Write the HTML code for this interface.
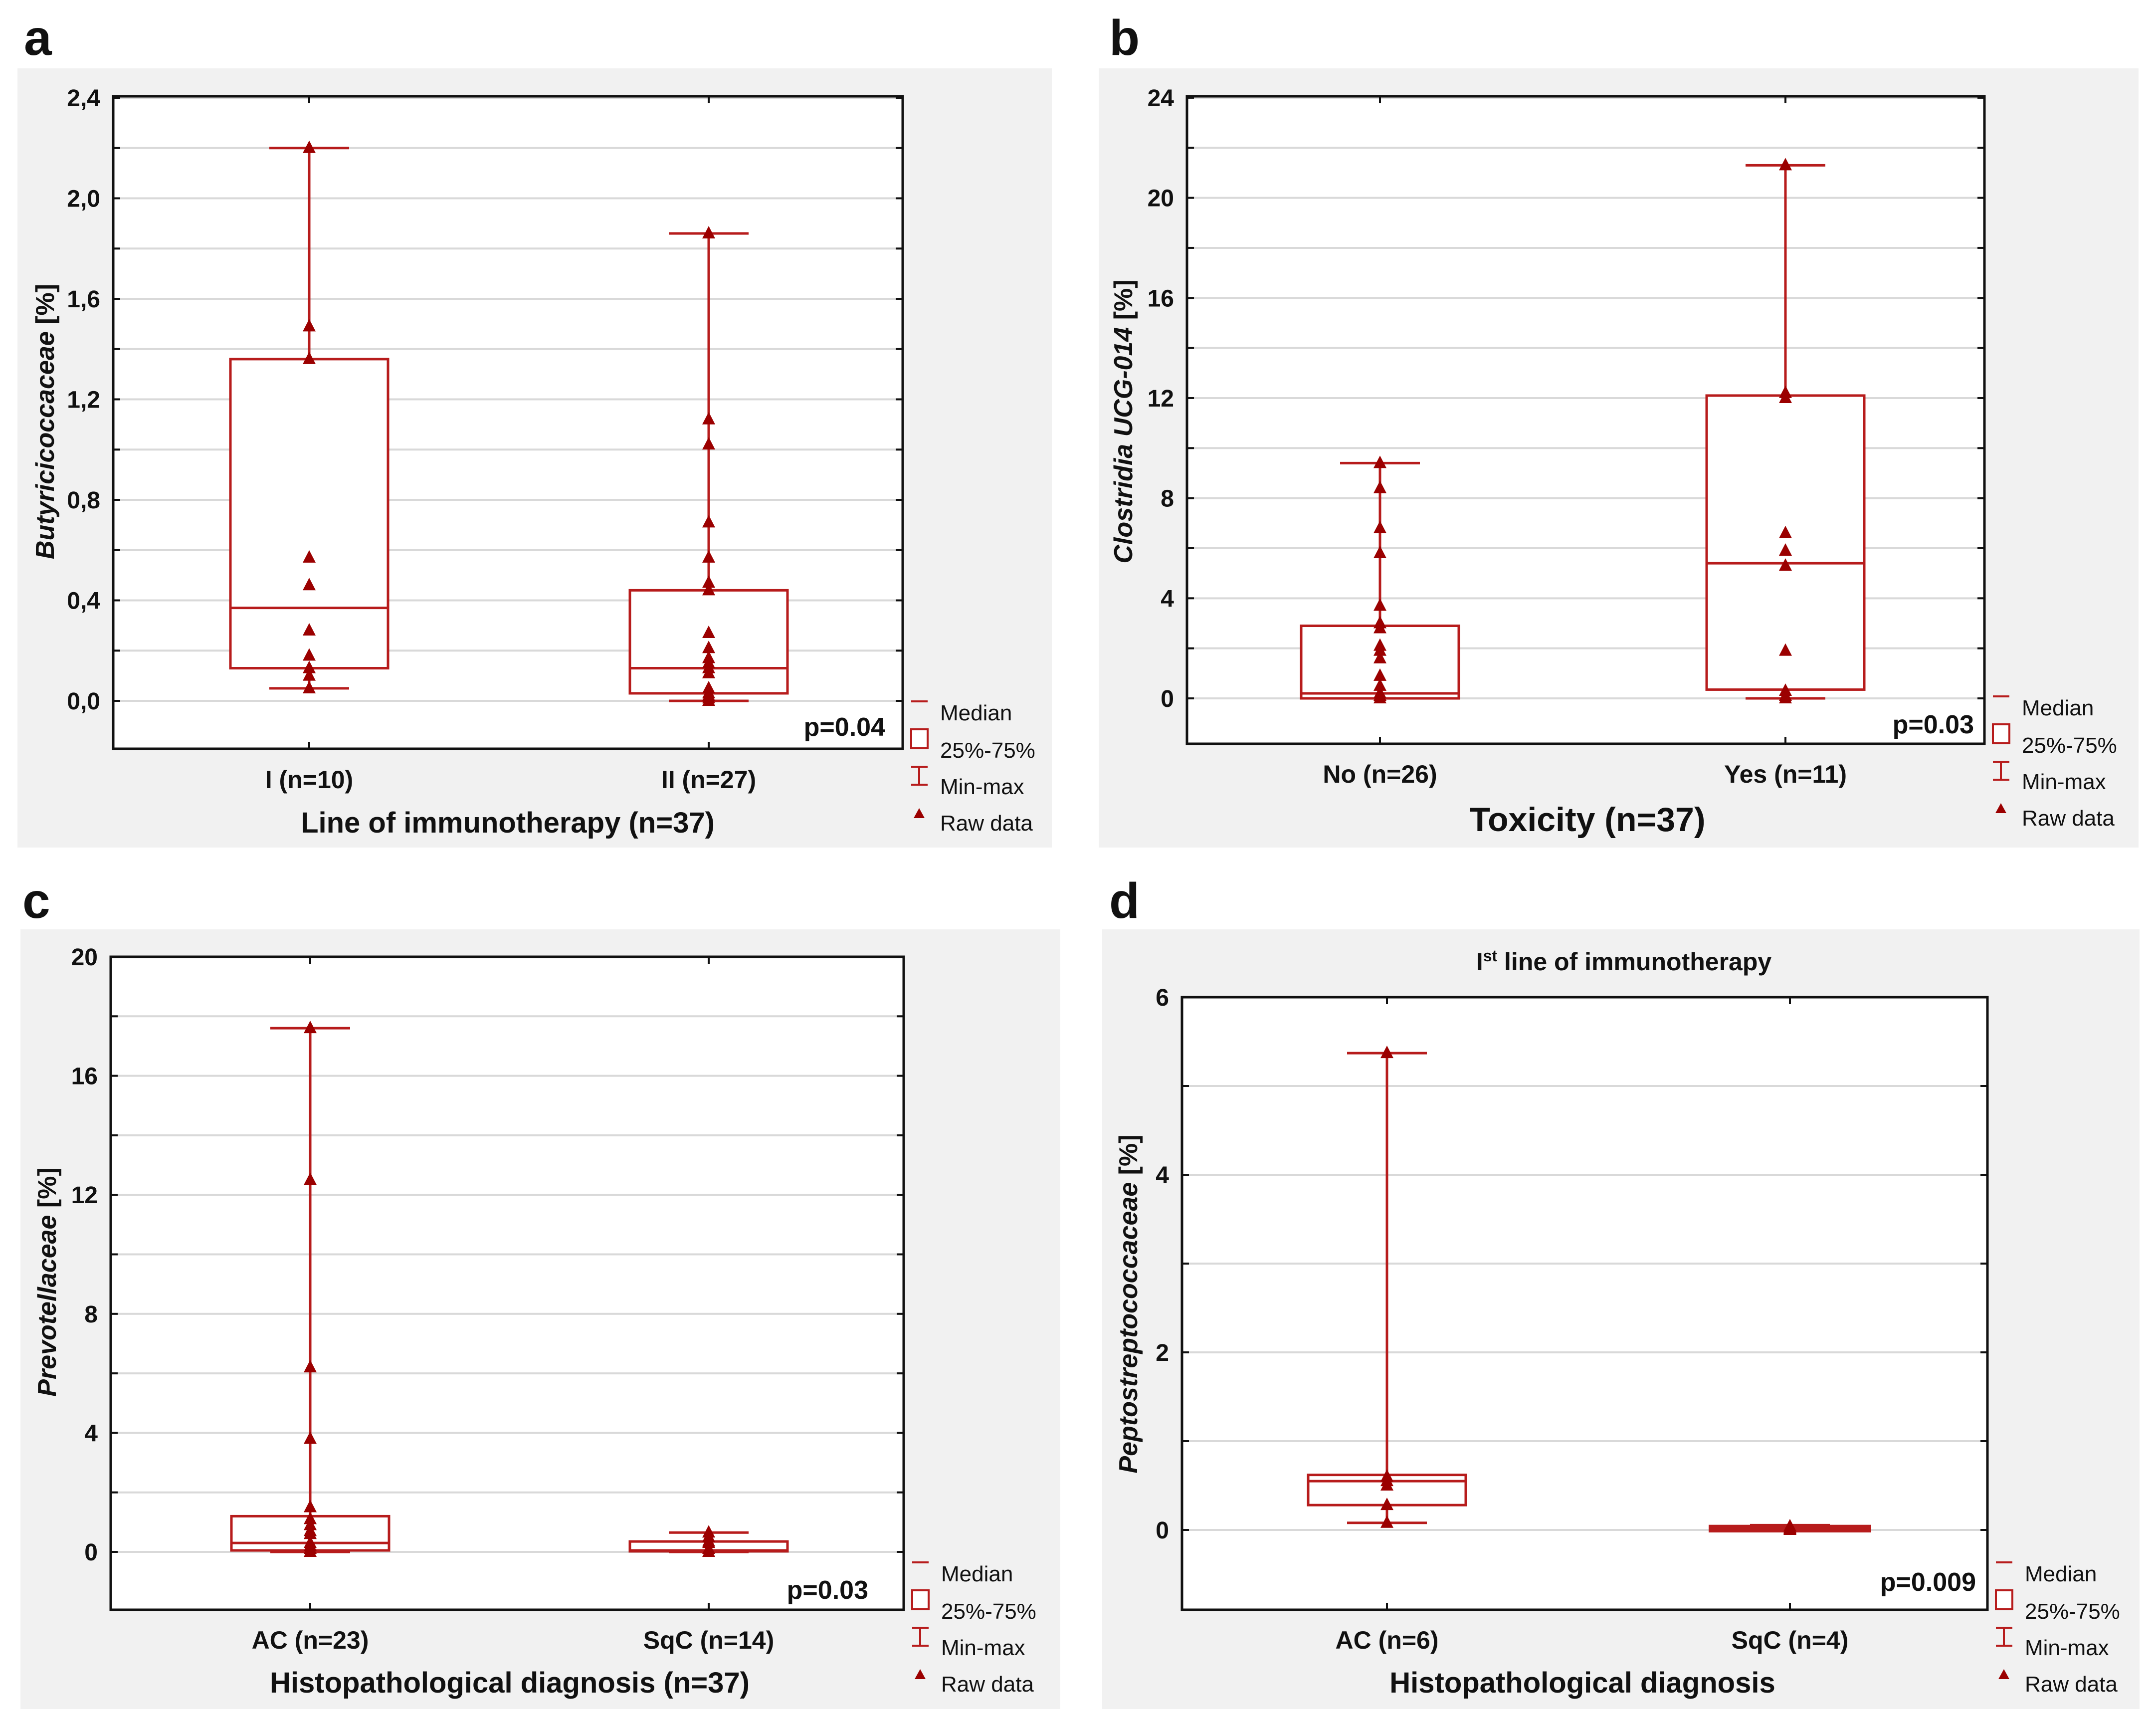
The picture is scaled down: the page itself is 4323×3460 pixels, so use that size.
<!DOCTYPE html>
<html><head><meta charset="utf-8"><style>
html,body{margin:0;padding:0;background:#fff;}
svg{display:block;}
text{font-family:"Liberation Sans",Arial,sans-serif;fill:#111;}
</style></head>
<body>
<svg id="fig" width="4323" height="3460" viewBox="0 0 4323 3460" xmlns="http://www.w3.org/2000/svg"></svg>
<script>
// ---------- Panel a data ----------
const aCategories = ["I (n=10)", "II (n=27)"];
const aMin = [0.05, 0.0];
const aQ1 = [0.13, 0.03];
const aMedian = [0.37, 0.13];
const aQ3 = [1.36, 0.44];
const aMax = [2.2, 1.86];
const aRaw0 = [2.2, 1.49, 1.36, 0.57, 0.46, 0.28, 0.18, 0.13, 0.10, 0.05];
const aRaw1 = [1.86, 1.12, 1.02, 0.71, 0.57, 0.47, 0.44, 0.27, 0.21, 0.17, 0.15, 0.13, 0.11, 0.05, 0.03, 0.02, 0.01, 0.0];
const aTicks = [0.0, 0.4, 0.8, 1.2, 1.6, 2.0, 2.4];
// ---------- Panel b data ----------
const bCategories = ["No (n=26)", "Yes (n=11)"];
const bMin = [0, 0];
const bQ1 = [0, 0.35];
const bMedian = [0.2, 5.4];
const bQ3 = [2.9, 12.1];
const bMax = [9.4, 21.3];
const bRaw0 = [9.4, 8.4, 6.8, 5.8, 3.7, 3.0, 2.8, 2.1, 1.9, 1.6, 0.9, 0.5, 0.2, 0.1, 0];
const bRaw1 = [21.3, 12.2, 12.0, 6.6, 5.9, 5.3, 1.9, 0.3, 0.1, 0];
const bTicks = [0, 4, 8, 12, 16, 20, 24];
// ---------- Panel c data ----------
const cCategories = ["AC (n=23)", "SqC (n=14)"];
const cMin = [0, 0];
const cQ1 = [0.05, 0.02];
const cMedian = [0.3, 0.05];
const cQ3 = [1.2, 0.35];
const cMax = [17.6, 0.65];
const cRaw0 = [17.6, 12.5, 6.2, 3.8, 1.5, 1.1, 0.9, 0.7, 0.6, 0.3, 0.2, 0.1, 0];
const cRaw1 = [0.65, 0.5, 0.35, 0.3, 0.1, 0];
const cTicks = [0, 4, 8, 12, 16, 20];
// ---------- Panel d data ----------
const dCategories = ["AC (n=6)", "SqC (n=4)"];
const dMin = [0.08, 0.0];
const dQ1 = [0.28, 0.0];
const dMedian = [0.55, 0.02];
const dQ3 = [0.62, 0.03];
const dMax = [5.37, 0.04];
const dRaw0 = [5.37, 0.6, 0.55, 0.5, 0.28, 0.08];
const dRaw1 = [0.04, 0.02, 0.01, 0];
const dTicks = [0, 2, 4, 6];

const NS = "http://www.w3.org/2000/svg";
const svg = document.getElementById("fig");
const RED = "#b71c1c", DARK = "#9b0000";
function mk(tag, attrs, parent, txt) {
  const e = document.createElementNS(NS, tag);
  for (const k in attrs) e.setAttribute(k, attrs[k]);
  if (txt !== undefined) e.textContent = txt;
  (parent || svg).appendChild(e);
  return e;
}

function panel(cfg) {
  const g = mk("g", {});
  
  
  const bg = mk("rect", {x: cfg.gx0, y: cfg.gy0, width: cfg.gx1 - cfg.gx0, height: cfg.gy1 - cfg.gy0, fill: "#f1f1f1"}, g);
  
  
  const lab = mk("text", {x: cfg.lx, y: cfg.ly, "font-size": 100, "font-weight": "bold"}, svg, cfg.id);
  
  
  const L = cfg.px0, R = cfg.px1, T = cfg.py0, B = cfg.py1;
  const y = v => cfg.yZero - (v) * cfg.yUnit;
  mk("rect", {x: L, y: T, width: R - L, height: B - T, fill: "#fff"}, g);
  for (let v = cfg.gridStart; v <= cfg.gridEnd + 1e-9; v += cfg.gridStep) {
    const gl = mk("line", {x1: L, x2: R, y1: y(v), y2: y(v), stroke: "#d9d9d9", "stroke-width": 4}, g);
    
    
    mk("line", {x1: L, x2: L + 14, y1: y(v), y2: y(v), stroke: "#111", "stroke-width": 4}, g);
    mk("line", {x1: R - 14, x2: R, y1: y(v), y2: y(v), stroke: "#111", "stroke-width": 4}, g);
  }
  cfg.ticks.forEach(t => {
    const s = cfg.comma ? t.toFixed(1).replace(".", ",") : String(t);
    const tl = mk("text", {x: L - 26, y: y(t) + 17, "text-anchor": "end", "font-size": 48, "font-weight": "bold"}, g, s);
    
    
  });
  const fr = mk("rect", {x: L, y: T, width: R - L, height: B - T, fill: "none", stroke: "#111", "stroke-width": 5}, g);
  
  
  cfg.cats.forEach((c, i) => {
    const cx = cfg.cx[i];
    const sw = (cfg.thick && cfg.thick[i]) ? 10 : 5;
    mk("line", {x1: cx, x2: cx, y1: B, y2: B - 14, stroke: "#111", "stroke-width": 4}, g);
    mk("line", {x1: cx, x2: cx, y1: T, y2: T + 14, stroke: "#111", "stroke-width": 4}, g);
    const cl = mk("text", {x: cx, y: cfg.catY, "text-anchor": "middle", "font-size": 50, "font-weight": "bold"}, g, c);
    
    
    const hw = 158, cw = 80;
    const wh = mk("line", {x1: cx, x2: cx, y1: y(cfg.max[i]), y2: y(cfg.min[i]), stroke: RED, "stroke-width": 5}, g);
    
    
    [cfg.max[i], cfg.min[i]].forEach(v => {
      const cap = mk("line", {x1: cx - cw, x2: cx + cw, y1: y(v), y2: y(v), stroke: RED, "stroke-width": sw}, g);
      
      
    });
    const bx = mk("rect", {x: cx - hw, y: y(cfg.q3[i]), width: 2 * hw, height: Math.max(2, y(cfg.q1[i]) - y(cfg.q3[i])), fill: "#fff", stroke: RED, "stroke-width": sw}, g);
    
    
    const md = mk("line", {x1: cx - hw, x2: cx + hw, y1: y(cfg.med[i]), y2: y(cfg.med[i]), stroke: RED, "stroke-width": sw}, g);
    
    
    cfg.raw[i].forEach(v => {
      const py = y(v);
      const tri = mk("polygon", {points: `${cx},${py - 15} ${cx - 13},${py + 10} ${cx + 13},${py + 10}`, fill: DARK}, g);
      
      
    });
  });
  const pv = mk("text", {x: cfg.pX, y: cfg.pY, "text-anchor": "end", "font-size": 52, "font-weight": "bold"}, g, cfg.p);
  
  
  const yt = mk("text", {x: 0, y: 0, "text-anchor": "middle", "font-size": 52, "font-weight": "bold", transform: `translate(${cfg.ytX},${cfg.ytY}) rotate(-90)`}, g);
  
  
  mk("tspan", {"font-style": "italic"}, yt, cfg.yTitle);
  mk("tspan", {}, yt, " [%]");
  const xt = mk("text", {x: cfg.xtX, y: cfg.xtY, "text-anchor": "middle", "font-size": cfg.xtSize, "font-weight": "bold"}, g, cfg.xTitle);
  
  
  const lg = mk("g", {}, g);
  
  
  const lx = R + 17, tx = R + 75;
  mk("line", {x1: lx, x2: lx + 33, y1: B - 95, y2: B - 95, stroke: RED, "stroke-width": 4}, lg);
  mk("rect", {x: lx, y: B - 39, width: 33, height: 38, fill: "#fff", stroke: RED, "stroke-width": 4}, lg);
  mk("line", {x1: lx + 16, x2: lx + 16, y1: B + 36, y2: B + 72, stroke: RED, "stroke-width": 4}, lg);
  mk("line", {x1: lx, x2: lx + 33, y1: B + 36, y2: B + 36, stroke: RED, "stroke-width": 4}, lg);
  mk("line", {x1: lx, x2: lx + 33, y1: B + 72, y2: B + 72, stroke: RED, "stroke-width": 4}, lg);
  mk("polygon", {points: `${lx + 16},${B + 119} ${lx + 5},${B + 139} ${lx + 27},${B + 139}`, fill: DARK}, lg);
  [["Median", -57], ["25%-75%", 18], ["Min-max", 91], ["Raw data", 164]].forEach(([s, dy]) => {
    const le = mk("text", {x: tx, y: B + dy, "font-size": 44}, lg, s);
    
    
  });
  if (cfg.title) {
    const ti = mk("text", {x: cfg.titleX, y: cfg.titleY, "text-anchor": "middle", "font-size": 50, "font-weight": "bold"}, g);
    
    
    ti.appendChild(document.createTextNode("I"));
    mk("tspan", {dy: -18, "font-size": 32}, ti, "st");
    mk("tspan", {dy: 18}, ti, " line of immunotherapy");
  }
}

panel({id: "a", gx0: 35, gx1: 2109, gy0: 137, gy1: 1699, lx: 48, ly: 110,
  px0: 227, px1: 1810, py0: 193, py1: 1501, yZero: 1405, yUnit: 503.75,
  gridStart: 0, gridEnd: 2.4, gridStep: 0.2, ticks: aTicks, comma: true,
  cats: aCategories, cx: [620, 1421], min: aMin, q1: aQ1, med: aMedian, q3: aQ3, max: aMax, raw: [aRaw0, aRaw1],
  catY: 1580, p: "p=0.04", pX: 1775, pY: 1475, yTitle: "Butyricicoccaceae", ytX: 108, ytY: 845,
  xTitle: "Line of immunotherapy (n=37)", xtX: 1018, xtY: 1669, xtSize: 58});

panel({id: "b", gx0: 2203, gx1: 4288, gy0: 137, gy1: 1699, lx: 2224, ly: 110,
  px0: 2380, px1: 3979, py0: 193, py1: 1491, yZero: 1400, yUnit: 50.17,
  gridStart: 0, gridEnd: 24, gridStep: 2, ticks: bTicks, comma: false,
  cats: bCategories, cx: [2767, 3580], min: bMin, q1: bQ1, med: bMedian, q3: bQ3, max: bMax, raw: [bRaw0, bRaw1],
  catY: 1569, p: "p=0.03", pX: 3958, pY: 1470, yTitle: "Clostridia UCG-014", ytX: 2270, ytY: 845,
  xTitle: "Toxicity (n=37)", xtX: 3183, xtY: 1666, xtSize: 68});

panel({id: "c", gx0: 41, gx1: 2126, gy0: 1863, gy1: 3426, lx: 45, ly: 1840,
  px0: 222, px1: 1812, py0: 1918, py1: 3227, yZero: 3111, yUnit: 59.65,
  gridStart: 0, gridEnd: 20, gridStep: 2, ticks: cTicks, comma: false,
  cats: cCategories, cx: [622, 1421], min: cMin, q1: cQ1, med: cMedian, q3: cQ3, max: cMax, raw: [cRaw0, cRaw1],
  catY: 3305, p: "p=0.03", pX: 1741, pY: 3205, yTitle: "Prevotellaceae", ytX: 112, ytY: 2570,
  xTitle: "Histopathological diagnosis (n=37)", xtX: 1022, xtY: 3393, xtSize: 58});

panel({id: "d", gx0: 2210, gx1: 4290, gy0: 1863, gy1: 3426, lx: 2224, ly: 1840,
  px0: 2370, px1: 3985, py0: 1999, py1: 3227, yZero: 3067, yUnit: 178,
  gridStart: 0, gridEnd: 6, gridStep: 1, ticks: dTicks, comma: false,
  cats: dCategories, cx: [2781, 3589], min: dMin, q1: dQ1, med: dMedian, q3: dQ3, max: dMax, raw: [dRaw0, dRaw1],
  thick: [false, true],
  catY: 3305, p: "p=0.009", pX: 3962, pY: 3189, yTitle: "Peptostreptococcaceae", ytX: 2280, ytY: 2614,
  xTitle: "Histopathological diagnosis", xtX: 3173, xtY: 3393, xtSize: 58,
  title: true, titleX: 3256, titleY: 1945});
</script>
</body></html>
